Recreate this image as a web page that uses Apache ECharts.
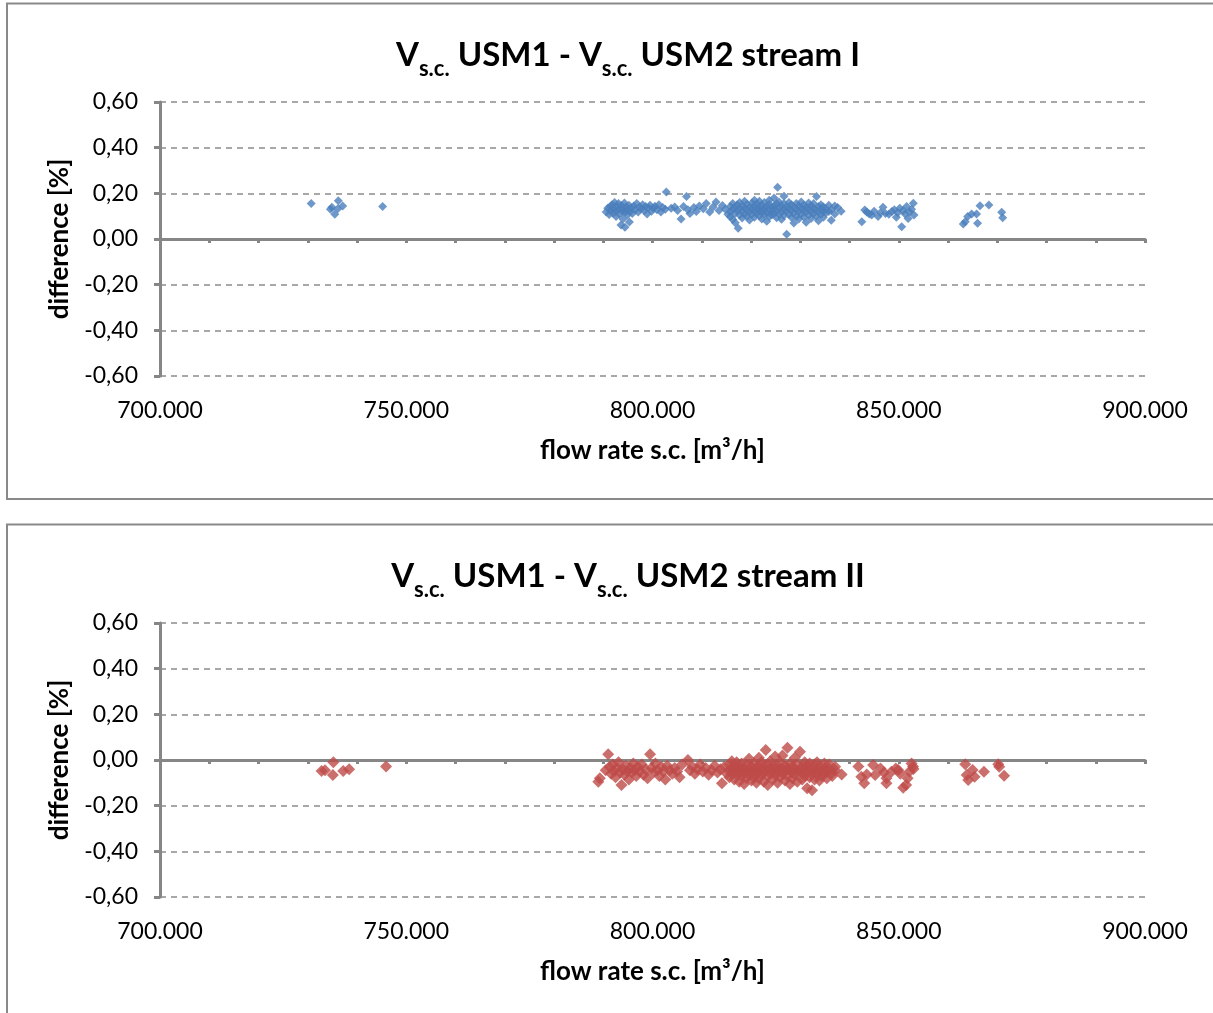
<!DOCTYPE html>
<html>
<head>
<meta charset="utf-8">
<script src="https://cdn.jsdelivr.net/npm/echarts@6/dist/echarts.min.js"></script>
<style>
html,body{margin:0;padding:0;background:#fff;}
#c{width:1213px;height:1013px;}
</style>
</head>
<body>
<div id="c"></div>
<script>
// flow rate s.c. in thousand m³/h (labels shown as 700.000 etc.), difference in %
const xTicks = [700, 750, 800, 850, 900];
const yTicks = [-0.6, -0.4, -0.2, 0, 0.2, 0.4, 0.6];

const streamI = [
  [730.7,0.156],[734.9,0.139],[734.6,0.130],[736.2,0.168],[737.1,0.145],[736.1,0.133],[735.5,0.108],[745.2,0.142],
  [790.6,0.118],[790.9,0.135],[791.2,0.107],[791.4,0.142],[791.6,0.125],[791.8,0.150],[792.0,0.113],[792.1,0.132],
  [792.3,0.160],[792.5,0.121],[792.6,0.098],[792.8,0.140],[793.0,0.128],[793.1,0.155],[793.3,0.110],[793.5,0.136],
  [793.6,0.061],[793.7,0.147],[793.9,0.122],[794.0,0.088],[794.1,0.131],[794.3,0.158],[794.4,0.051],[794.5,0.118],
  [794.7,0.140],[794.9,0.105],[795.0,0.128],[795.2,0.148],[795.3,0.075],[795.5,0.120],[795.7,0.137],[795.9,0.112],
  [796.2,0.145],[796.5,0.128],[796.8,0.155],[797.1,0.118],[797.4,0.140],[797.7,0.133],[798.0,0.150],[798.3,0.125],
  [798.6,0.142],[798.9,0.110],[799.2,0.137],[799.5,0.148],[799.8,0.122],[800.2,0.135],[800.5,0.143],[800.9,0.128],
  [801.3,0.150],[801.7,0.118],[802.1,0.138],[802.6,0.130],[802.8,0.206],
  [803.8,0.135],[804.5,0.140],[805.1,0.125],[805.8,0.088],[806.3,0.142],[806.9,0.186],[807.2,0.128],[807.6,0.112],
  [808.4,0.138],[808.9,0.120],[809.5,0.145],[810.3,0.132],[810.9,0.155],[811.6,0.118],[812.3,0.140],[812.9,0.162],
  [813.5,0.125],[814.2,0.147],[814.8,0.130],[815.3,0.108],
  [815.8,0.142],[815.8,0.118],[815.8,0.097],[816.3,0.130],[816.3,0.155],[816.3,0.085],[816.8,0.112],[816.8,0.138],
  [816.8,0.071],[817.2,0.125],[817.2,0.150],[817.4,0.047],[817.7,0.105],[817.7,0.133],[817.7,0.160],[818.2,0.120],
  [818.2,0.145],[818.2,0.092],[818.7,0.137],[818.7,0.110],[818.7,0.165],[819.2,0.128],[819.2,0.100],[819.2,0.152],
  [819.7,0.118],[819.7,0.140],[819.7,0.083],[820.2,0.133],[820.2,0.158],[820.2,0.108],[820.7,0.122],[820.7,0.145],
  [820.7,0.095],[820.7,0.170],[821.2,0.130],[821.2,0.112],[821.2,0.153],[821.7,0.140],[821.7,0.102],[821.7,0.125],
  [821.7,0.165],[822.2,0.118],[822.2,0.148],[822.2,0.088],[822.7,0.135],[822.7,0.107],[822.7,0.160],[822.7,0.125],
  [823.2,0.142],[823.2,0.115],[823.2,0.078],[823.7,0.128],[823.7,0.152],[823.7,0.098],[823.7,0.170],[824.2,0.120],
  [824.2,0.138],[824.2,0.105],[824.7,0.145],[824.7,0.112],[824.7,0.130],[824.7,0.180],[825.2,0.125],[825.2,0.155],
  [825.2,0.093],[825.4,0.227],[825.7,0.137],[825.7,0.110],[825.7,0.162],[826.2,0.118],[826.2,0.145],[826.2,0.086],
  [826.7,0.130],[826.7,0.103],[826.7,0.155],[826.7,0.187],[827.2,0.122],[827.2,0.140],[827.25,0.021],[827.7,0.135],
  [827.7,0.108],[827.7,0.160],[828.2,0.125],[828.2,0.150],[828.2,0.095],[828.7,0.115],[828.7,0.140],[828.7,0.070],
  [829.2,0.130],[829.2,0.155],[829.2,0.100],[829.7,0.120],[829.7,0.145],[829.7,0.088],[830.2,0.135],[830.2,0.110],
  [830.2,0.162],[830.7,0.125],[830.7,0.148],[830.7,0.096],[831.2,0.118],[831.2,0.140],[831.2,0.073],[831.7,0.132],
  [831.7,0.105],[831.7,0.158],[832.2,0.122],[832.2,0.145],[832.2,0.090],[832.7,0.135],[832.7,0.112],[832.7,0.155],
  [833.2,0.128],[833.3,0.186],[833.2,0.100],[833.7,0.118],[833.7,0.142],[833.7,0.080],[834.2,0.130],[834.2,0.108],
  [834.2,0.150],[834.7,0.122],[834.7,0.095],[834.7,0.140],[835.2,0.115],[835.2,0.132],[835.8,0.148],[835.8,0.120],
  [836.3,0.128],[836.3,0.082],[837.0,0.110],[837.0,0.145],[837.6,0.138],[838.3,0.122],
  [842.5,0.076],[843.1,0.127],[843.5,0.118],[844.0,0.110],[844.5,0.105],[845.0,0.122],[845.8,0.098],[846.3,0.115],
  [846.8,0.139],[847.3,0.112],[848.0,0.108],[848.6,0.120],[849.1,0.128],[849.5,0.095],[849.8,0.115],[850.2,0.135],
  [850.6,0.054],[850.9,0.125],[851.3,0.110],[851.6,0.142],[851.9,0.090],[852.2,0.118],[852.6,0.130],[852.96,0.157],
  [853.1,0.105],
  [863.1,0.066],[863.5,0.076],[864.0,0.098],[864.8,0.110],[865.8,0.110],[866.0,0.069],[866.5,0.146],[868.3,0.149],
  [870.9,0.117],[871.1,0.093]
];

const streamII = [
  [732.8,-0.048],[733.5,-0.045],[735.2,-0.010],[735.1,-0.066],[737.2,-0.048],[738.4,-0.041],[745.9,-0.029],
  [789.0,-0.095],[789.3,-0.080],[790.5,-0.045],[791.0,0.025],[791.3,-0.030],[791.6,-0.060],[791.9,-0.020],[792.2,-0.050],
  [792.5,-0.075],[792.8,-0.035],[793.1,-0.010],[793.4,-0.055],[793.7,-0.110],[794.0,-0.040],[794.3,-0.065],[794.6,-0.025],
  [794.9,-0.050],[795.2,-0.085],[795.5,-0.035],[795.8,-0.055],[796.1,-0.015],[796.4,-0.045],[796.7,-0.070],[797.0,-0.030],
  [797.4,-0.050],[797.8,-0.020],[798.2,-0.065],[798.6,-0.040],[799.0,-0.080],[799.5,0.025],[799.8,-0.035],[800.2,-0.055],
  [800.6,-0.015],[801.0,-0.045],[801.4,-0.070],[801.8,-0.030],[802.2,-0.050],[802.6,-0.085],[803.0,-0.025],[803.5,-0.045],
  [804.0,-0.060],[804.5,-0.035],[805.0,-0.050],[805.5,-0.075],[806.0,-0.020],
  [807.2,0.000],[807.6,-0.045],[808.1,-0.030],[808.6,-0.060],[809.1,-0.040],[809.7,-0.020],[810.2,-0.050],[810.8,-0.035],
  [811.4,-0.065],[812.0,-0.045],[812.6,-0.025],[813.2,-0.055],[813.8,-0.040],[814.1,-0.102],[814.6,-0.030],[815.1,-0.060],
  [815.6,-0.045],[815.6,-0.020],[815.6,-0.075],[816.1,-0.035],[816.1,-0.060],[816.1,-0.005],[816.6,-0.050],[816.6,-0.085],
  [816.6,-0.025],[817.1,-0.040],[817.1,-0.065],[817.1,-0.010],[817.6,-0.055],[817.6,-0.030],[817.6,-0.095],[818.1,-0.045],
  [818.1,-0.070],[818.1,-0.015],[818.6,-0.035],[818.6,-0.060],[818.6,-0.105],[819.1,-0.050],[819.1,-0.020],[819.1,-0.080],
  [819.6,-0.040],[819.6,-0.065],[819.6,0.005],[820.1,-0.055],[820.1,-0.030],[820.1,-0.090],[820.6,-0.045],[820.6,-0.075],
  [820.6,-0.015],[821.1,-0.035],[821.1,-0.060],[821.1,-0.100],[821.6,-0.050],[821.6,-0.025],[821.6,-0.080],[821.6,0.010],
  [822.1,-0.040],[822.1,-0.065],[822.1,-0.010],[822.6,-0.055],[822.6,-0.030],[822.6,-0.095],[823.0,0.044],[823.0,-0.045],
  [823.4,-0.070],[823.4,-0.020],[823.4,-0.110],[823.9,-0.040],[823.9,-0.060],[823.9,-0.005],[824.4,-0.050],[824.4,-0.085],
  [824.4,-0.030],[824.9,-0.035],[824.9,-0.065],[824.9,0.015],[825.4,-0.055],[825.4,-0.025],[825.4,-0.100],[825.9,-0.045],
  [825.9,-0.075],[825.9,-0.010],[826.4,-0.040],[826.4,-0.060],[826.4,0.020],[826.9,-0.050],[826.9,-0.090],[826.9,-0.025],
  [827.4,0.054],[827.4,-0.035],[827.4,-0.070],[827.9,-0.045],[827.9,-0.015],[827.9,-0.105],[828.4,-0.055],[828.4,-0.030],
  [828.4,-0.080],[828.9,-0.040],[828.9,-0.065],[828.9,0.010],[829.4,-0.050],[829.4,-0.020],[829.4,-0.095],[829.95,0.036],
  [829.95,-0.045],[830.4,-0.060],[830.4,-0.030],[830.4,-0.085],[830.9,-0.040],[830.9,-0.070],[830.9,-0.010],[831.4,-0.055],
  [831.4,-0.025],[831.4,-0.124],[831.9,-0.045],[831.9,-0.075],[831.9,-0.015],[832.4,-0.035],[832.4,-0.060],[832.4,-0.132],
  [832.9,-0.050],[832.9,-0.020],[832.9,-0.085],[833.4,-0.040],[833.4,-0.065],[833.4,-0.010],[833.9,-0.055],[833.9,-0.030],
  [833.9,-0.090],[834.4,-0.045],[834.4,-0.070],[834.9,-0.035],[834.9,-0.060],[834.9,-0.015],[835.4,-0.050],[835.4,-0.080],
  [835.9,-0.040],[835.9,-0.020],[836.5,-0.055],[836.5,-0.070],[837.1,-0.030],[837.1,-0.045],[838.4,-0.063],
  [841.8,-0.029],[842.4,-0.073],[843.0,-0.102],[843.5,-0.063],[844.8,-0.022],[845.2,-0.066],[846.3,-0.037],[847.0,-0.055],
  [847.5,-0.080],[847.5,-0.102],[848.5,-0.051],[849.4,-0.037],[849.9,-0.044],[850.3,-0.060],[850.9,-0.121],[851.5,-0.110],
  [851.8,-0.080],[852.2,-0.050],[852.6,-0.015],[853.0,-0.039],[852.9,-0.028],
  [863.5,-0.019],[863.8,-0.066],[864.1,-0.088],[865.0,-0.044],[865.4,-0.073],[867.3,-0.051],[870.2,-0.019],[870.4,-0.030],
  [871.4,-0.069]
];

const titleI = '{m|V}{s|s.c.}{m| USM1 - V}{s|s.c.}{m| USM2 stream I}';
const titleII = '{m|V}{s|s.c.}{m| USM1 - V}{s|s.c.}{m| USM2 stream II}';
const yName = 'difference [%]';
const xName = 'flow rate s.c. [m³/h]';

const FONT = 'Lato';
const AXIS_C = '#868686';

function fmtY(v){ return v.toFixed(2).replace('.', ','); }
function fmtX(v){ return v.toFixed(3); }

function titleGraphic(text, y){
  return {
    type: 'text', x: 628, y: y,
    style: {
      text: text, align: 'center', verticalAlign: 'middle',
      rich: {
        m: {fontFamily: FONT, fontWeight: 'bold', fontSize: 33, lineHeight: 50, fill: '#000'},
        s: {fontFamily: FONT, fontWeight: 'bold', fontSize: 22, lineHeight: 20, verticalAlign: 'bottom', fill: '#000'}
      }
    }
  };
}

function grid(top){ return {left: 160, width: 985, top: top, height: 274}; }

function xLabelAxis(gi){
  return {
    gridIndex: gi, type: 'value', min: 700, max: 900, interval: 50, position: 'bottom',
    axisLine: {show: false, onZero: false}, axisTick: {show: false}, splitLine: {show: false},
    axisLabel: {formatter: fmtX, fontFamily: FONT, fontSize: 23, color: '#000', margin: 23},
    name: xName, nameLocation: 'middle', nameGap: 62,
    nameTextStyle: {fontFamily: FONT, fontWeight: 'bold', fontSize: 26, color: '#000'}
  };
}
function xZeroAxis(gi){
  return {
    gridIndex: gi, type: 'value', min: 700, max: 900, interval: 10, position: 'bottom',
    axisLine: {show: true, onZero: true, lineStyle: {color: AXIS_C, width: 3}},
    axisTick: {show: true, length: 4, lineStyle: {color: AXIS_C, width: 3}},
    axisLabel: {show: false}, splitLine: {show: false}
  };
}
function yAx(gi){
  return {
    gridIndex: gi, type: 'value', min: -0.6, max: 0.6, interval: 0.2,
    axisLine: {show: true, onZero: false, lineStyle: {color: AXIS_C, width: 3}},
    axisTick: {show: true, length: 6, lineStyle: {color: AXIS_C, width: 3}},
    axisLabel: {formatter: fmtY, fontFamily: FONT, fontSize: 23, color: '#000', margin: 22},
    splitLine: {show: true, lineStyle: {color: '#8c8c8c', width: 1.5, type: [6, 5]}},
    name: yName, nameLocation: 'middle', nameGap: 87,
    nameTextStyle: {fontFamily: FONT, fontWeight: 'bold', fontSize: 26, color: '#000'}
  };
}

const chart = echarts.init(document.getElementById('c'), null, {renderer: 'canvas'});
chart.setOption({
  animation: false,
  backgroundColor: '#fff',
  graphic: [
    {type: 'rect', shape: {x: 7, y: 3.5, width: 1240, height: 495.5}, style: {fill: 'none', stroke: '#898989', lineWidth: 2}},
    {type: 'rect', shape: {x: 7, y: 524.5, width: 1240, height: 520}, style: {fill: 'none', stroke: '#898989', lineWidth: 2}},
    titleGraphic(titleI, 55),
    titleGraphic(titleII, 576)
  ],
  grid: [grid(102), grid(623)],
  xAxis: [xLabelAxis(0), xZeroAxis(0), xLabelAxis(1), xZeroAxis(1)],
  yAxis: [yAx(0), yAx(1)],
  series: [
    {type: 'scatter', xAxisIndex: 0, yAxisIndex: 0, data: streamI, symbol: 'diamond', symbolSize: 9,
     itemStyle: {color: '#4A7EBB'}},
    {type: 'scatter', xAxisIndex: 2, yAxisIndex: 1, data: streamII, symbol: 'diamond', symbolSize: 12,
     itemStyle: {color: '#BE4B48'}}
  ]
});
</script>
</body>
</html>
